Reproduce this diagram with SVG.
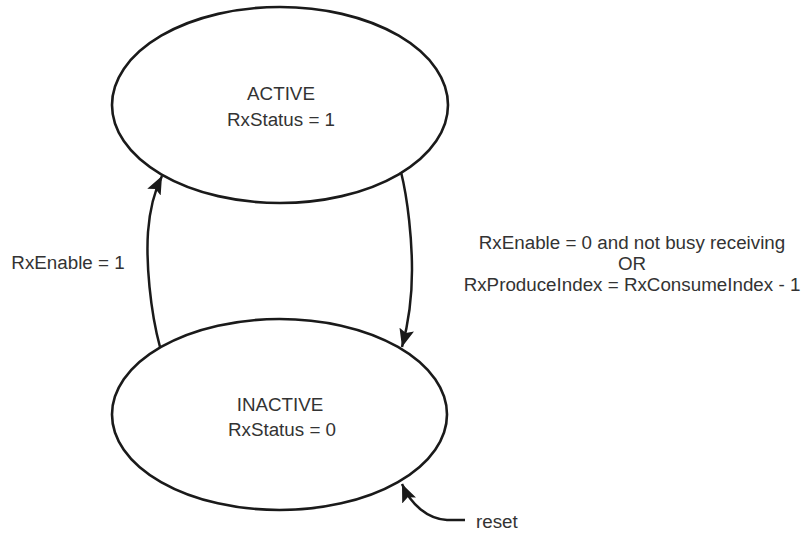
<svg xmlns="http://www.w3.org/2000/svg" width="804" height="534" viewBox="0 0 804 534">
  <style>
    .state { fill: #ffffff; stroke: #1a1a1a; stroke-width: 2.6; }
    .conn { fill: none; stroke: #1a1a1a; stroke-width: 2.5; }
    text { font-family: "Liberation Sans", Arial, sans-serif; font-size: 18.8px; fill: #333333; }
    .c { text-anchor: middle; }
  </style>
  <defs>
    <marker id="arrow" markerUnits="userSpaceOnUse" markerWidth="20" markerHeight="16" refX="18" refY="7.5" orient="auto">
      <path d="M0,0 L18,7.5 L0,15 L3.5,7.5 z" fill="#1a1a1a"/>
    </marker>
  </defs>
  <rect width="804" height="534" fill="#ffffff"/>
  <g id="active">
    <ellipse class="state" cx="280" cy="105" rx="168" ry="98"/>
    <text class="c" x="281" y="100">ACTIVE</text>
    <text class="c" x="281" y="126">RxStatus = 1</text>
  </g>
  <g id="inactive">
    <ellipse class="state" cx="279.5" cy="414.5" rx="167.5" ry="95.5"/>
    <text class="c" x="280" y="411">INACTIVE</text>
    <text class="c" x="282" y="436">RxStatus = 0</text>
  </g>
  <g id="connectors">
    <path class="conn" d="M160,347 C150,310 146,262 148,232 C150,205 155,190 162,176" marker-end="url(#arrow)"/>
    <path class="conn" d="M401,172 C408,200 412,240 412,270 C412,300 408,325 402,347" marker-end="url(#arrow)"/>
    <path class="conn" d="M465,520 L447,520 C428,519 411,505 402,484" marker-end="url(#arrow)"/>
  </g>
  <g id="labels">
    <text class="c" x="68" y="269">RxEnable = 1</text>
    <text class="c" x="632" y="249">RxEnable = 0 and not busy receiving</text>
    <text class="c" x="632" y="270">OR</text>
    <text class="c" x="632" y="291">RxProduceIndex = RxConsumeIndex - 1</text>
    <text x="476" y="528">reset</text>
  </g>
</svg>
